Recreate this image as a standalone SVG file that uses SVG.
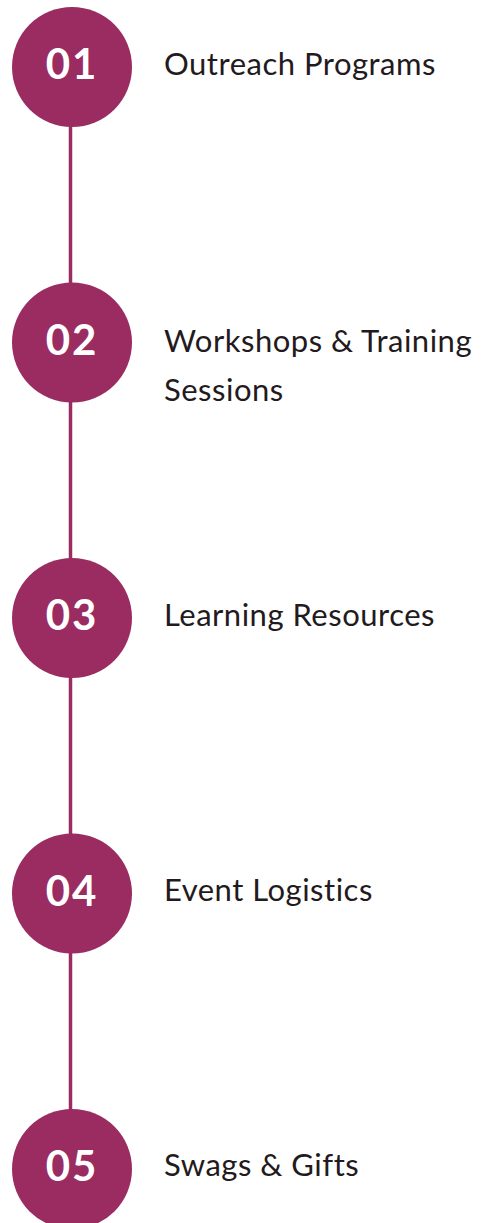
<svg xmlns="http://www.w3.org/2000/svg" width="487" height="1223" viewBox="0 0 487 1223">
<style>
.c{fill:#9a2c62}
.n{font-family:Lato,"Liberation Sans",sans-serif;font-weight:700;font-size:42px;fill:#ffffff;text-anchor:middle;letter-spacing:2px}
.t{font-family:Lato,"Liberation Sans",sans-serif;font-size:31px;fill:#231a20;letter-spacing:0.5px}
.l{stroke:#9a2c62;stroke-width:3.5;fill:none}
</style>
<rect width="487" height="1223" fill="#ffffff"/>
<g id="connectors">
<line class="l" x1="70.5" y1="120" x2="70.5" y2="290"/>
<line class="l" x1="70.5" y1="395" x2="70.5" y2="566"/>
<line class="l" x1="70.5" y1="670" x2="70.5" y2="841"/>
<line class="l" x1="70.5" y1="945" x2="70.5" y2="1116"/>
</g>
<g id="node1"><circle class="c" cx="72" cy="67" r="60"/><text class="n" x="72" y="79">01</text><text class="t" x="164" y="75">Outreach Programs</text></g>
<g id="node2"><circle class="c" cx="72" cy="342.5" r="60"/><text class="n" x="72" y="354.5">02</text><text class="t" x="164" y="352">Workshops &amp; Training</text><text class="t" x="164" y="401">Sessions</text></g>
<g id="node3"><circle class="c" cx="72" cy="618" r="60"/><text class="n" x="72" y="630">03</text><text class="t" x="164" y="626">Learning Resources</text></g>
<g id="node4"><circle class="c" cx="72" cy="893.5" r="60"/><text class="n" x="72" y="905.5">04</text><text class="t" x="164" y="901">Event Logistics</text></g>
<g id="node5"><circle class="c" cx="72" cy="1169" r="60"/><text class="n" x="72" y="1181">05</text><text class="t" x="164" y="1176">Swags &amp; Gifts</text></g>
</svg>
